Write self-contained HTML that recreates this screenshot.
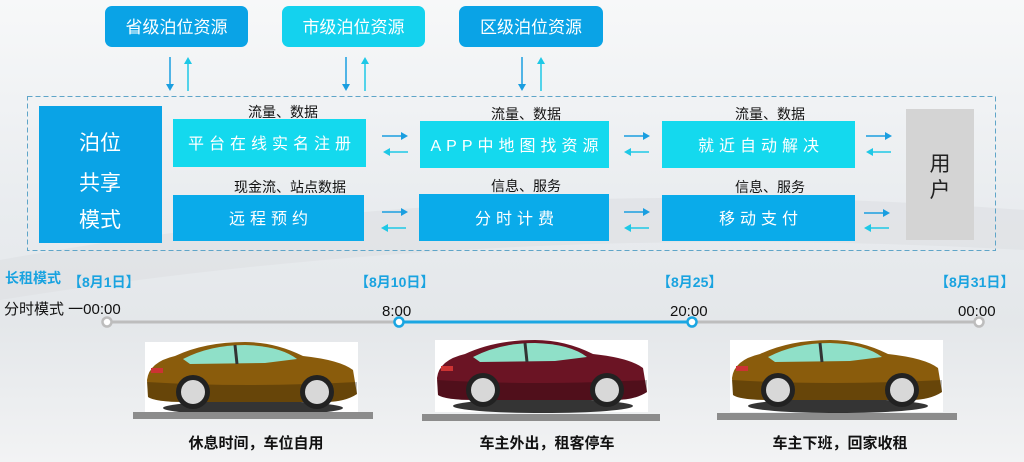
<!DOCTYPE html>
<html><head><meta charset="utf-8"><style>
html,body{margin:0;padding:0;width:1024px;height:462px;overflow:hidden}
svg{display:block}
text{font-family:"Liberation Sans","Noto Sans CJK SC",sans-serif}
</style></head><body>
<svg width="1024" height="462" viewBox="0 0 1024 462" xmlns="http://www.w3.org/2000/svg">
<defs>
<linearGradient id="bg" x1="0" y1="0" x2="0" y2="1">
<stop offset="0" stop-color="#f7f8f9"/><stop offset="0.45" stop-color="#e9ecef"/><stop offset="0.7" stop-color="#e4e7ea"/><stop offset="1" stop-color="#f2f3f4"/>
</linearGradient>
<g id="car">
<rect x="0" y="0" width="213" height="72" fill="#fff"/>
<ellipse cx="108" cy="66" rx="90" ry="7" fill="#111" opacity="0.85"/>
<path d="M2 38 Q4 20 30 14 Q60 0 100 0 Q130 0 158 14 Q195 18 208 28 L212 52 Q200 60 180 60 L40 60 Q10 60 3 55 Z" fill="C"/>
<path d="M38 17 Q65 3 100 3 Q135 4 152 17 L120 21 L45 22 Z" fill="#8fe0c8"/>
<line x1="90" y1="3" x2="92" y2="22" stroke="#333" stroke-width="3"/>
<path d="M2 40 Q100 46 212 40 L212 52 Q200 60 180 60 L40 60 Q10 60 3 55 Z" fill="#000" opacity="0.25"/>
<circle cx="48" cy="50" r="17" fill="#222"/><circle cx="48" cy="50" r="12" fill="#d8d8d8"/>
<circle cx="172" cy="50" r="17" fill="#222"/><circle cx="172" cy="50" r="12" fill="#d8d8d8"/>
<rect x="6" y="26" width="12" height="5" fill="#c33"/>
</g>
</defs>
<rect width="1024" height="462" fill="url(#bg)"/>
<path d="M0 260 Q500 170 1024 210 L1024 250 Q500 220 0 300Z" fill="#dde0e3" opacity="0.6"/>

<rect x="105" y="6" width="143" height="41" rx="7" fill="#0aa3e6"/>
<text x="176.5" y="33" fill="#fff" font-size="17" text-anchor="middle">省级泊位资源</text>
<rect x="282" y="6" width="143" height="41" rx="7" fill="#14d2ee"/>
<text x="353.5" y="33" fill="#fff" font-size="17" text-anchor="middle">市级泊位资源</text>
<rect x="459" y="6" width="144" height="41" rx="7" fill="#0aa3e6"/>
<text x="531" y="33" fill="#fff" font-size="17" text-anchor="middle">区级泊位资源</text>

<g stroke-width="1.5" fill="none">
<g stroke="#1a9ee0"><line x1="170" y1="57" x2="170" y2="86"/><line x1="346" y1="57" x2="346" y2="86"/><line x1="522" y1="57" x2="522" y2="86"/></g>
<g stroke="#1ec8e6"><line x1="188" y1="64" x2="188" y2="91"/><line x1="365" y1="64" x2="365" y2="91"/><line x1="541" y1="64" x2="541" y2="91"/></g>
</g>
<g fill="#1a9ee0"><path d="M166 84 L174 84 L170 91Z"/><path d="M342 84 L350 84 L346 91Z"/><path d="M518 84 L526 84 L522 91Z"/></g>
<g fill="#1ec8e6"><path d="M184 64 L192 64 L188 57Z"/><path d="M361 64 L369 64 L365 57Z"/><path d="M537 64 L545 64 L541 57Z"/></g>

<rect x="27.5" y="96.5" width="968" height="154" fill="none" stroke="#5fa5c8" stroke-width="1" stroke-dasharray="5,3"/>

<rect x="39" y="106" width="123" height="137" fill="#0aa3e6"/>
<g fill="#fff" font-size="21" text-anchor="middle"><text x="100" y="150">泊位</text><text x="100" y="190">共享</text><text x="100" y="227">模式</text></g>

<g font-size="16" text-anchor="middle" fill="#fff" letter-spacing="5">
<rect x="173" y="119" width="193" height="48" fill="#14d9ee"/><text x="272" y="149">平台在线实名注册</text>
<rect x="420" y="121" width="189" height="47" fill="#14d9ee"/><text x="517" y="151">APP中地图找资源</text>
<rect x="662" y="121" width="193" height="47" fill="#14d9ee"/><text x="761" y="151">就近自动解决</text>
<rect x="173" y="195" width="191" height="46" fill="#0aabea"/><text x="271" y="224">远程预约</text>
<rect x="419" y="194" width="190" height="47" fill="#0aabea"/><text x="517" y="224">分时计费</text>
<rect x="662" y="195" width="193" height="46" fill="#0aabea"/><text x="761" y="224">移动支付</text>
</g>
<rect x="906" y="109" width="68" height="131" fill="#d4d4d4"/>
<g font-size="21" text-anchor="middle" fill="#222"><text x="940" y="171">用</text><text x="940" y="197">户</text></g>

<g font-size="14" fill="#111" text-anchor="middle">
<text x="283" y="117">流量、数据</text><text x="290" y="192">现金流、站点数据</text>
<text x="526" y="119">流量、数据</text><text x="526" y="191">信息、服务</text>
<text x="770" y="119">流量、数据</text><text x="770" y="192">信息、服务</text>
</g>

<g stroke-width="1.5">
<g stroke="#1a9ee0"><line x1="382" y1="136" x2="402" y2="136"/><line x1="382" y1="212" x2="402" y2="212"/><line x1="624" y1="136" x2="644" y2="136"/><line x1="624" y1="212" x2="644" y2="212"/><line x1="866" y1="136" x2="886" y2="136"/><line x1="864" y1="213" x2="884" y2="213"/></g>
<g stroke="#1ec8e6"><line x1="389" y1="152" x2="408" y2="152"/><line x1="387" y1="228" x2="406" y2="228"/><line x1="630" y1="152" x2="649" y2="152"/><line x1="630" y1="228" x2="649" y2="228"/><line x1="872" y1="152" x2="891" y2="152"/><line x1="870" y1="228" x2="889" y2="228"/></g>
</g>
<g fill="#1a9ee0"><path d="M401 132L408 136L401 140Z"/><path d="M401 208L408 212L401 216Z"/><path d="M643 132L650 136L643 140Z"/><path d="M643 208L650 212L643 216Z"/><path d="M885 132L892 136L885 140Z"/><path d="M883 209L890 213L883 217Z"/></g>
<g fill="#1ec8e6"><path d="M390 148L383 152L390 156Z"/><path d="M388 224L381 228L388 232Z"/><path d="M631 148L624 152L631 156Z"/><path d="M631 224L624 228L631 232Z"/><path d="M873 148L866 152L873 156Z"/><path d="M871 224L864 228L871 232Z"/></g>

<g font-size="14" font-weight="bold" fill="#19a3e0">
<text x="5" y="283">长租模式</text><text x="68" y="287">【8月1日】</text>
<text x="355" y="287">【8月10日】</text><text x="657" y="287">【8月25】</text><text x="935" y="287">【8月31日】</text>
</g>
<g font-size="15" fill="#111">
<text x="4" y="314">分时模式 一00:00</text>
<text x="382" y="316">8:00</text><text x="670" y="316">20:00</text><text x="958" y="316">00:00</text>
</g>
<line x1="107" y1="322" x2="399" y2="322" stroke="#bdbdbd" stroke-width="3"/>
<line x1="399" y1="322" x2="692" y2="322" stroke="#1aa6e2" stroke-width="3"/>
<line x1="692" y1="322" x2="979" y2="322" stroke="#bdbdbd" stroke-width="3"/>
<circle cx="107" cy="322" r="4.5" fill="#fff" stroke="#bdbdbd" stroke-width="2.5"/>
<circle cx="399" cy="322" r="4.5" fill="#fff" stroke="#1aa6e2" stroke-width="2.5"/>
<circle cx="692" cy="322" r="4.5" fill="#fff" stroke="#1aa6e2" stroke-width="2.5"/>
<circle cx="979" cy="322" r="4.5" fill="#fff" stroke="#bdbdbd" stroke-width="2.5"/>

<g transform="translate(145,342)"><use href="#car" fill="#8a5c0c"/></g>
<g transform="translate(435,340)"><use href="#car" fill="#6b1424"/></g>
<g transform="translate(730,340)"><use href="#car" fill="#8a5c0c"/></g>
<rect x="133" y="412" width="240" height="7" fill="#8c8c8c"/>
<rect x="422" y="414" width="238" height="7" fill="#8c8c8c"/>
<rect x="717" y="413" width="240" height="7" fill="#8c8c8c"/>

<g font-size="15" font-weight="bold" fill="#111" text-anchor="middle">
<text x="256" y="448">休息时间，车位自用</text>
<text x="547" y="448">车主外出，租客停车</text>
<text x="840" y="448">车主下班，回家收租</text>
</g>
</svg>
</body></html>
